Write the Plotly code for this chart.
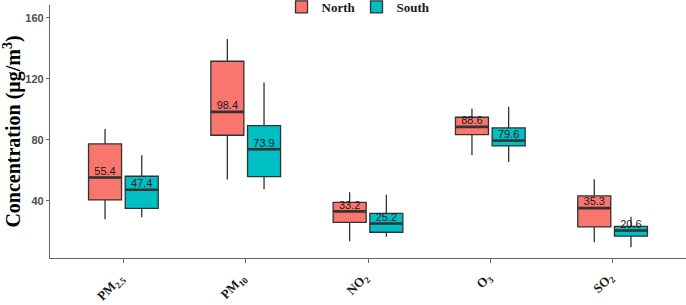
import plotly.graph_objects as go

categories = ["PM<sub>2.5</sub>", "PM<sub>10</sub>", "NO<sub>2</sub>", "O<sub>3</sub>", "SO<sub>2</sub>"]

north_upper = [87.2, 146.2, 45.7, 100.5, 54.2]
north_q3 = [77.4, 131.6, 39.1, 94.9, 43.3]
north_median = [55.4, 98.4, 33.2, 88.6, 35.3]
north_q1 = [40.7, 83.1, 26.0, 83.5, 23.0]
north_lower = [28.0, 54.0, 13.6, 70.2, 12.9]

south_upper = [70.0, 117.6, 44.1, 101.8, 29.7]
south_q3 = [56.2, 89.4, 31.9, 87.9, 23.4]
south_median = [47.4, 73.9, 25.2, 79.6, 20.6]
south_q1 = [35.2, 56.0, 19.5, 76.1, 16.9]
south_lower = [29.3, 47.7, 16.6, 65.6, 9.6]

idx = list(range(len(categories)))
dodge = 0.15
box_w = 0.27
north_x = [i - dodge for i in idx]
south_x = [i + dodge for i in idx]

fig = go.Figure()
for name, xs, up, q3, med, q1, lo, col in [
    ("North", north_x, north_upper, north_q3, north_median, north_q1, north_lower, "#F8766D"),
    ("South", south_x, south_upper, south_q3, south_median, south_q1, south_lower, "#00BFC4"),
]:
    fig.add_trace(go.Box(
        name=name, x=xs, q1=q1, median=med, q3=q3, lowerfence=lo, upperfence=up,
        width=box_w, fillcolor=col, line=dict(color="#333333", width=1.3),
        whiskerwidth=0, boxpoints=False, hoverinfo="skip",
    ))
    # thicker median line (ggplot fatten)
    fig.add_trace(go.Scatter(
        x=xs, y=med, mode="markers", showlegend=False, hoverinfo="skip",
        marker=dict(symbol="line-ew-open", size=23, color="#333333", line=dict(color="#333333", width=2.6)),
    ))
    fig.add_trace(go.Scatter(
        x=xs, y=med, mode="text", text=[f"{v:.1f}" for v in med],
        textposition="top center", showlegend=False, hoverinfo="skip",
        textfont=dict(family="Liberation Sans, Arial", size=11, color="#1a1a1a"),
    ))

# rotated category labels
for i, lab in zip(idx, categories):
    fig.add_annotation(
        x=i, y=0, xref="x", yref="paper", text=lab, showarrow=False, textangle=-45,
        xanchor="right", yanchor="top", xshift=8, yshift=-9,
        font=dict(family="Liberation Serif, Times New Roman", size=13, color="#1a1a1a", weight="bold"),
    )

fig.update_layout(
    width=686, height=305,
    margin=dict(l=50, r=0, t=5, b=47, autoexpand=False),
    paper_bgcolor="white", plot_bgcolor="white",
    showlegend=True,
    legend=dict(orientation="h", x=0.364, xanchor="left", y=0.992, yanchor="middle",
                entrywidth=30, entrywidthmode="pixels",
                font=dict(family="Liberation Serif, Times New Roman", size=13, color="#1a1a1a", weight="bold"),
                bgcolor="rgba(0,0,0,0)"),
    xaxis=dict(range=[-0.6, len(categories) - 0.4], tickmode="array", tickvals=idx, showticklabels=False,
               showgrid=False, zeroline=False, showline=True, linecolor="#666666", linewidth=1.2,
               ticks="outside", ticklen=4, tickcolor="#666666", automargin=False),
    yaxis=dict(range=[2.6, 168.5], tickvals=[40, 80, 120, 160], showgrid=False, zeroline=False,
               showline=True, linecolor="#666666", linewidth=1.2, ticks="outside", ticklen=3, tickcolor="#666666",
               automargin=False,
               tickfont=dict(family="Liberation Sans, Arial", size=11, color="#4d4d4d", weight="bold"),
               title=dict(text="Concentration (μg/m<sup>3</sup>)", standoff=6,
                          font=dict(family="Liberation Serif, Times New Roman", size=20, color="#000000", weight="bold"))),
)

fig.write_html("out.html", config={"displayModeBar": False},
               post_script="document.body.style.margin='0';document.body.style.overflow='hidden';")
